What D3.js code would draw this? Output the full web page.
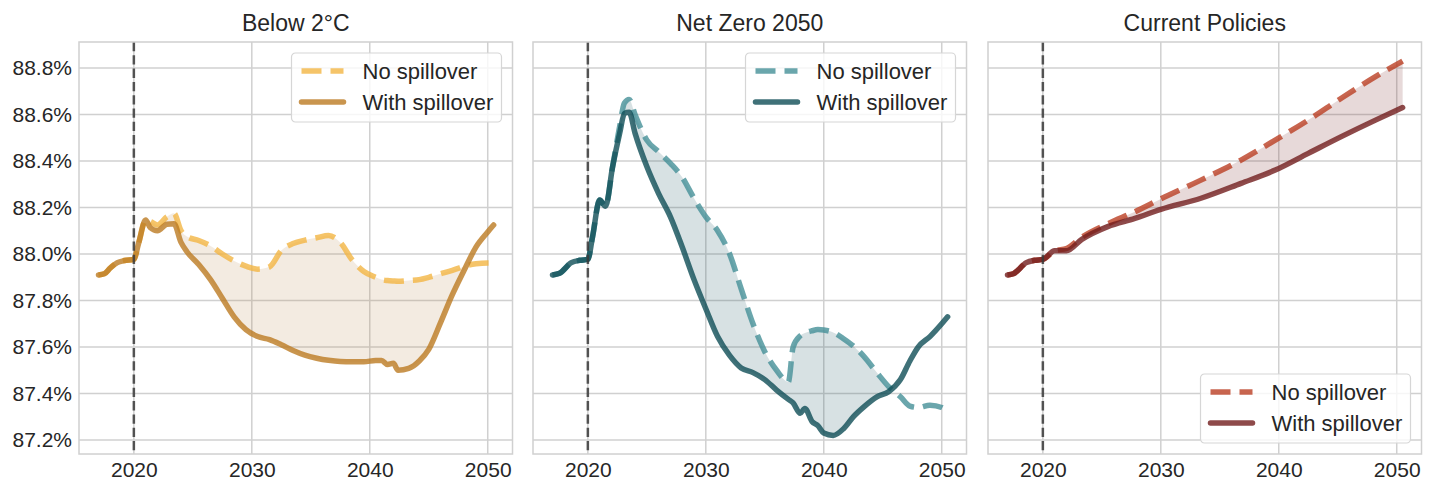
<!DOCTYPE html>
<html>
<head>
<meta charset="utf-8">
<script src="https://cdn.jsdelivr.net/npm/d3@7"></script>
<style>
  body { margin: 0; background: #fff; }
  svg { display: block; font-family: "Liberation Sans", Arial, sans-serif; }
</style>
</head>
<body>
<svg id="chart" width="1437" height="482"></svg>
<script>
// --- data (share of total, %) ---
const b2Years = [2017, 2017.5, 2018, 2018.6, 2019.2, 2020, 2020.4, 2021, 2021.4, 2022, 2022.8, 2023.4, 2024, 2024.5,
  2025.5, 2026.5, 2027.5, 2028.5, 2029.5, 2030.5, 2031.5, 2032.5, 2033.5, 2034.5, 2035.5, 2036.5, 2037.5, 2038.5,
  2039.5, 2040.5, 2041, 2041.5, 2042, 2042.4, 2043.3, 2044.2, 2045, 2046, 2047, 2048, 2049, 2050, 2050.5];
const b2With = [87.91, 87.915, 87.94, 87.963, 87.972, 87.977, 88.046, 88.146, 88.113, 88.10, 88.128, 88.13, 88.05, 88.01,
  87.955, 87.89, 87.81, 87.73, 87.675, 87.645, 87.632, 87.61, 87.585, 87.565, 87.552, 87.543, 87.538, 87.537,
  87.537, 87.542, 87.542, 87.525, 87.53, 87.50, 87.508, 87.54, 87.59, 87.705, 87.825, 87.93, 88.03, 88.095, 88.125];
const b2No = [87.91, 87.915, 87.94, 87.963, 87.972, 87.977, 88.046, 88.146, 88.14, 88.125, 88.16, 88.175, 88.10, 88.075,
  88.058, 88.035, 88.0, 87.97, 87.948, 87.935, 87.945, 88.015, 88.045, 88.06, 88.07, 88.08, 88.05, 87.975,
  87.925, 87.9, 87.89, 87.886, 87.884, 87.883, 87.886, 87.89, 87.9, 87.915, 87.93, 87.947, 87.958, 87.962, 87.962];

const nzYears = [2017, 2017.6, 2018.6, 2019.3, 2020, 2020.4, 2021, 2021.5, 2022.1, 2022.7, 2023.1, 2023.5, 2024, 2025,
  2026, 2027, 2028, 2029, 2030, 2031, 2032, 2033, 2034, 2035, 2036, 2037, 2037.4, 2038, 2038.4, 2039, 2039.5, 2040,
  2040.8, 2041.7, 2042.5, 2043.4, 2044.5, 2045.5, 2046.5, 2047.3, 2048, 2049, 2050, 2050.5];
const nzWith = [87.91, 87.917, 87.963, 87.973, 87.977, 88.075, 88.232, 88.206, 88.376, 88.52, 88.605, 88.61, 88.52, 88.376,
  88.26, 88.16, 88.03, 87.89, 87.765, 87.645, 87.565, 87.51, 87.49, 87.46, 87.415, 87.375, 87.36, 87.315, 87.336, 87.28,
  87.262, 87.23, 87.22, 87.25, 87.30, 87.343, 87.386, 87.408, 87.46, 87.54, 87.6, 87.645, 87.70, 87.73];
const nzNo = [87.91, 87.917, 87.963, 87.973, 87.977, 88.075, 88.232, 88.206, 88.376, 88.55, 88.65, 88.665, 88.60, 88.49,
  88.44, 88.39, 88.33, 88.24, 88.16, 88.10, 88.003, 87.85, 87.70, 87.58, 87.50, 87.45, 87.6, 87.648, 87.66, 87.67,
  87.675, 87.673, 87.663, 87.635, 87.605, 87.56, 87.49, 87.43, 87.386, 87.346, 87.34, 87.35, 87.34, 87.318];

const cpYears = [2017, 2017.5, 2018.6, 2019.3, 2020, 2021, 2022, 2023.3, 2025.5, 2027.8, 2030, 2033.4, 2036.8, 2039.7,
  2042.5, 2045.3, 2048.2, 2050.5];
const cpWith = [87.91, 87.915, 87.963, 87.973, 87.977, 88.014, 88.014, 88.063, 88.118, 88.153, 88.192, 88.24, 88.304,
  88.361, 88.433, 88.505, 88.576, 88.63];
const cpNo = [87.91, 87.915, 87.963, 87.973, 87.977, 88.014, 88.024, 88.072, 88.13, 88.182, 88.237, 88.318, 88.404,
  88.49, 88.576, 88.67, 88.763, 88.83];

const titles = ["Below 2°C", "Net Zero 2050", "Current Policies"];
const seriesNames = ["No spillover", "With spillover"];
const xTicks = [2020, 2030, 2040, 2050];
const yTicks = [87.2, 87.4, 87.6, 87.8, 88.0, 88.2, 88.4, 88.6, 88.8];
const baseYear = 2020;

// colours per panel: [no spillover, with spillover]
const panels = [
  {title: titles[0], years: b2Years, no: b2No, with: b2With, cNo: "#f2b544", cWith: "#bb7a22", cFill: "#b58a4e", legendTop: true},
  {title: titles[1], years: nzYears, no: nzNo, with: nzWith, cNo: "#459097", cWith: "#0f4d56", cFill: "#0f4d56", legendTop: true},
  {title: titles[2], years: cpYears, no: cpNo, with: cpWith, cNo: "#ba3e23", cWith: "#721d1d", cFill: "#721d1d", legendTop: false}
];

const svg = d3.select("#chart");
const lefts = [79, 533, 988],
      plotTop = 42,
      w = 433.5,
      h = 412,
      ink = "#262626",
      gridColor = "#d0d0d0";

const x = d3.scaleLinear().domain([2015.35, 2052.1]).range([0, w]);
const y = d3.scaleLinear().domain([87.14, 88.912]).range([h, 0]);

panels.forEach((p, i) => {
  const g = svg.append("g").attr("transform", `translate(${lefts[i]},${plotTop})`);

  // grid
  g.selectAll(".gx").data(xTicks).join("line")
    .attr("x1", d => x(d)).attr("x2", d => x(d))
    .attr("y1", 0).attr("y2", h)
    .attr("stroke", gridColor).attr("stroke-width", 1.5);
  g.selectAll(".gy").data(yTicks).join("line")
    .attr("x1", 0).attr("x2", w)
    .attr("y1", d => y(d)).attr("y2", d => y(d))
    .attr("stroke", gridColor).attr("stroke-width", 1.5);

  // x axis labels
  const xa = g.append("g").attr("transform", `translate(0,${h})`)
    .call(d3.axisBottom(x).tickValues(xTicks).tickFormat(d3.format("d")).tickSize(0).tickPadding(8));
  xa.select(".domain").remove();
  xa.selectAll("text").attr("fill", ink).style("font-size", "21px").style("font-family", "Liberation Sans, Arial, sans-serif");

  if (i === 0) {
    const ya = g.append("g")
      .call(d3.axisLeft(y).tickValues(yTicks).tickFormat(d => d.toFixed(1) + "%").tickSize(0).tickPadding(7));
    ya.select(".domain").remove();
    ya.selectAll("text").attr("fill", ink).style("font-size", "21px").style("font-family", "Liberation Sans, Arial, sans-serif");
  }

  const pts = p.years.map((yr, k) => ({yr, no: p.no[k], with: p.with[k]}));
  const curve = d3.curveMonotoneX;

  // shaded gap, only where the no-spillover path sits above
  g.append("path").datum(pts)
    .attr("d", d3.area().x(d => x(d.yr)).y0(d => y(d.with)).y1(d => y(Math.max(d.no, d.with))).curve(curve))
    .attr("fill", p.cFill).attr("fill-opacity", 0.17);

  const line = key => d3.line().x(d => x(d.yr)).y(d => y(d[key])).curve(curve);

  g.append("path").datum(pts).attr("d", line("no"))
    .attr("fill", "none").attr("stroke", p.cNo).attr("stroke-opacity", 0.8)
    .attr("stroke-width", 5.5).attr("stroke-dasharray", "20,9");
  g.append("path").datum(pts).attr("d", line("with"))
    .attr("fill", "none").attr("stroke", p.cWith).attr("stroke-opacity", 0.8)
    .attr("stroke-width", 5.5).attr("stroke-linecap", "round").attr("stroke-linejoin", "round");

  // 2020 marker
  g.append("line")
    .attr("x1", x(baseYear)).attr("x2", x(baseYear)).attr("y1", 0).attr("y2", h)
    .attr("stroke", "#3a3a3a").attr("stroke-opacity", 0.85)
    .attr("stroke-width", 2.5).attr("stroke-dasharray", "9.3,4");

  // frame
  g.append("rect").attr("width", w).attr("height", h)
    .attr("fill", "none").attr("stroke", gridColor).attr("stroke-width", 1.5);

  // title
  g.append("text").attr("x", w / 2).attr("y", -11)
    .attr("text-anchor", "middle").attr("fill", ink)
    .style("font-size", "23px").text(p.title);

  // legend
  const lw = 210, lh = 69;
  const lg = g.append("g")
    .attr("transform", `translate(${w - 11 - lw},${p.legendTop ? 11 : h - 11 - lh})`);
  lg.append("rect").attr("width", lw).attr("height", lh).attr("rx", 4)
    .attr("fill", "#fff").attr("fill-opacity", 0.8)
    .attr("stroke", "#d6d6d6").attr("stroke-width", 1.2);
  seriesNames.forEach((name, k) => {
    const ry = 18 + k * 31;
    lg.append("line").attr("x1", 10).attr("x2", 52).attr("y1", ry).attr("y2", ry)
      .attr("stroke", k === 0 ? p.cNo : p.cWith).attr("stroke-opacity", 0.8)
      .attr("stroke-width", 5.5)
      .attr("stroke-dasharray", k === 0 ? "20,9" : null)
      .attr("stroke-linecap", k === 0 ? "butt" : "round");
    lg.append("text").attr("x", 71).attr("y", ry).attr("dy", "0.35em")
      .attr("fill", ink).style("font-size", "22px").text(name);
  });
});
</script>
</body>
</html>
